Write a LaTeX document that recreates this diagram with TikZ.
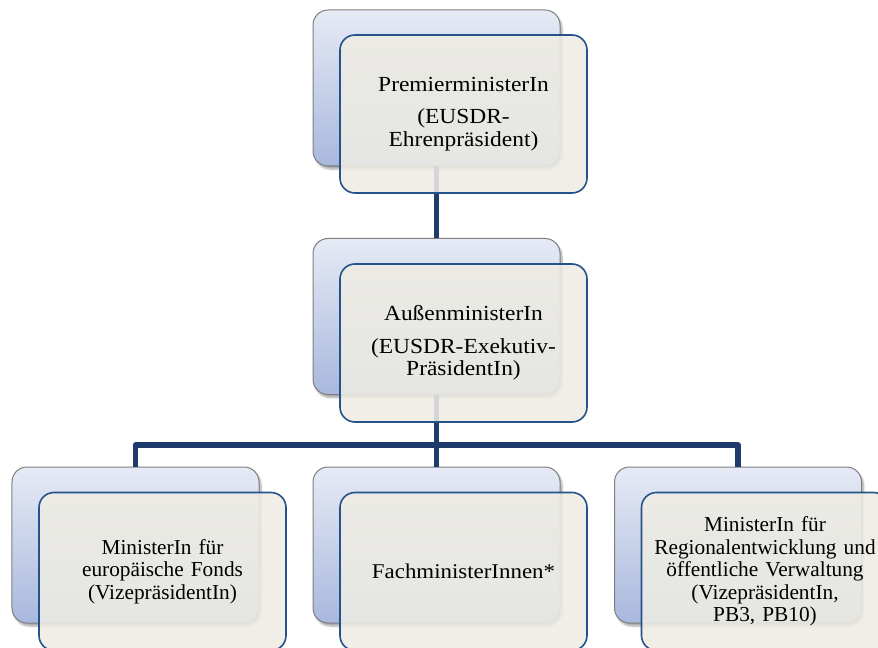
\documentclass[tikz,border=0pt]{standalone}
\usepackage{fontspec}
\setmainfont{Liberation Serif}
% a slightly widened serif for the headline cards
\newfontfamily\widerserif[FakeStretch=1.09]{Liberation Serif}
\usetikzlibrary{shadows.blur}
\definecolor{backtop}{HTML}{E6EAF5}
\definecolor{backbot}{HTML}{A8B8DD}
\definecolor{backedge}{HTML}{7F7F7F}
\definecolor{frontfill}{HTML}{EEECE4}
\definecolor{frontedge}{HTML}{24528A}
\definecolor{linkcol}{HTML}{1F3B6B}
\tikzset{
  backbox/.style={rounded corners=15bp, minimum width=247bp, minimum height=156bp,
    draw=backedge, line width=1bp, top color=backtop, bottom color=backbot,
    blur shadow={shadow xshift=2bp, shadow yshift=-3bp, shadow opacity=35, shadow blur steps=6}},
  frontbox/.style={rounded corners=15bp, minimum width=247bp, minimum height=158bp,
    draw=frontedge, line width=1.6bp, fill=frontfill, fill opacity=0.88, text opacity=1,
    align=center, text width=240bp, inner sep=0pt},
  toptext/.style={font=\widerserif\fontsize{21.5bp}{22.5bp}\selectfont},
  fachtext/.style={font=\widerserif\fontsize{21bp}{23bp}\selectfont},
  lowtext/.style={font=\fontsize{21.3bp}{22.5bp}\selectfont},
  link/.style={draw=linkcol, line width=5.5bp}
}
\begin{document}
\begin{tikzpicture}[x=1bp,y=-1bp]
\useasboundingbox (0,0) rectangle (878,648);
% back layer of each card
\node[backbox] (b1) at (436.5,88) {};
\node[backbox] (b2) at (436.5,316.5) {};
\node[backbox] (b3) at (135.5,545) {};
\node[backbox] (b4) at (436.5,545) {};
\node[backbox] (b5) at (738,545) {};
% connectors
\coordinate (jm) at (436.5,445);
\coordinate (jl) at (135.5,445);
\coordinate (jr) at (738,445);
\draw[link] (b1.south) -- (b2.north);
\draw[link] (b2.south) -- (jm);
\draw[link, line join=round] (b3.north) -- (jl) -- (jr) -- (b5.north);
\draw[link] (jm) -- (b4.north);
% front layer with the labels
\node[frontbox, toptext] (f1) at (463.5,114) {PremierministerIn\\[10bp](EUSDR-\\Ehrenpräsident)};
\node[frontbox, toptext] (f2) at (463.5,343) {AußenministerIn\\[10bp](EUSDR-Exekutiv-\\PräsidentIn)};
\node[frontbox, lowtext] (f3) at (162.5,571.5) {MinisterIn für\\europäische Fonds\\(VizepräsidentIn)};
\node[frontbox, fachtext] (f4) at (463.5,571.5) {FachministerInnen*};
\node[frontbox, lowtext] (f5) at (765,571.5) {MinisterIn für\\Regionalentwicklung und\\öffentliche Verwaltung\\(VizepräsidentIn,\\PB3, PB10)};
\end{tikzpicture}
\end{document}
